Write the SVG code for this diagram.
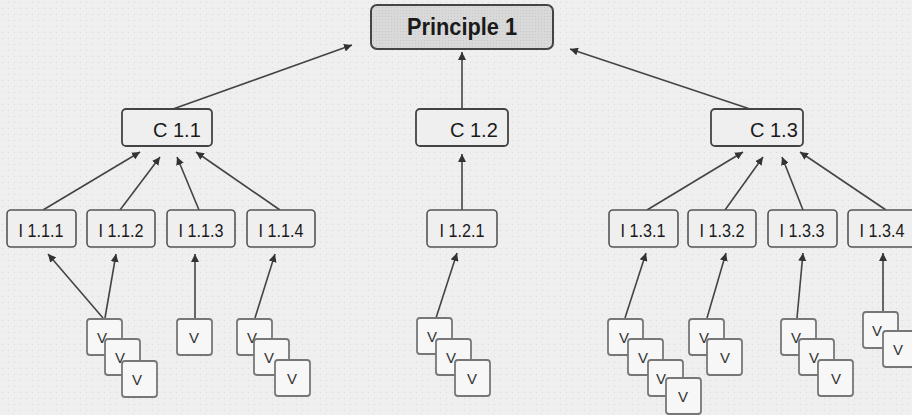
<svg xmlns="http://www.w3.org/2000/svg" width="912" height="415" viewBox="0 0 912 415">
<defs>
<pattern id="dots" width="6" height="6" patternUnits="userSpaceOnUse">
<rect width="6" height="6" fill="#efefef"/>
<rect x="2" y="2" width="1" height="1" fill="#d9d9d9"/>
</pattern>
<pattern id="pdots" width="3" height="3" patternUnits="userSpaceOnUse">
<rect width="3" height="3" fill="#d9d9d9"/>
<rect x="1" y="1" width="1" height="1" fill="#c8c8c8"/>
</pattern>
<marker id="ah" viewBox="0 0 10 10" refX="10" refY="5" markerWidth="8" markerHeight="8" orient="auto" markerUnits="userSpaceOnUse">
<path d="M0,0 L10,5 L0,10 z" fill="#333"/>
</marker>
</defs>
<style>
.bg{fill:url(#dots)}
.p{fill:url(#pdots);stroke:#444;stroke-width:2}
.c{fill:#efefef;stroke:#444;stroke-width:1.8}
.i{fill:#efefef;stroke:#555;stroke-width:1.6}
.v{fill:#f7f7f7;stroke:#777;stroke-width:1.8}
.ln{stroke:#444;stroke-width:1.6;fill:none;marker-end:url(#ah)}
text{font-family:"Liberation Sans",Arial,sans-serif;fill:#1a1a1a}
.pt{font-size:23px;font-weight:bold}
.ct{font-size:20px}
.it{font-size:18px;text-anchor:middle}
.vt{font-size:15px;text-anchor:middle;fill:#333}
</style>
<rect class="bg" x="0" y="0" width="912" height="415"/>

<g id="connectors">
<line class="ln" x1="173" y1="109" x2="352" y2="45"/>
<line class="ln" x1="462" y1="109" x2="462" y2="52"/>
<line class="ln" x1="750" y1="109" x2="570" y2="49"/>
<line class="ln" x1="43" y1="210" x2="140" y2="152"/>
<line class="ln" x1="120" y1="210" x2="160" y2="157"/>
<line class="ln" x1="199" y1="210" x2="177" y2="157"/>
<line class="ln" x1="280" y1="210" x2="196" y2="152"/>
<line class="ln" x1="462" y1="210" x2="462" y2="154"/>
<line class="ln" x1="647" y1="210" x2="743" y2="152"/>
<line class="ln" x1="725" y1="210" x2="763" y2="157"/>
<line class="ln" x1="803" y1="210" x2="782" y2="157"/>
<line class="ln" x1="886" y1="210" x2="800" y2="152"/>
<line class="ln" x1="103" y1="318" x2="48" y2="254"/>
<line class="ln" x1="105" y1="318" x2="116" y2="254"/>
<line class="ln" x1="195" y1="318" x2="195" y2="254"/>
<line class="ln" x1="255" y1="318" x2="275" y2="254"/>
<line class="ln" x1="436" y1="318" x2="457" y2="253"/>
<line class="ln" x1="625" y1="318" x2="646" y2="253"/>
<line class="ln" x1="707" y1="318" x2="726" y2="253"/>
<line class="ln" x1="797" y1="318" x2="803" y2="253"/>
<line class="ln" x1="883" y1="312" x2="883" y2="253"/>
</g>

<g id="principle1"><rect class="p" x="371" y="5" width="182" height="44" rx="6"/><text class="pt" x="407" y="35" textLength="110" lengthAdjust="spacingAndGlyphs">Principle 1</text></g>

<g id="c11"><rect class="c" x="122" y="109" width="90" height="37" rx="4"/><text class="ct" x="153" y="137">C 1.1</text></g>
<g id="c12"><rect class="c" x="416" y="109" width="92" height="37" rx="4"/><text class="ct" x="450" y="137">C 1.2</text></g>
<g id="c13"><rect class="c" x="711" y="109" width="92" height="37" rx="4"/><text class="ct" x="750" y="137">C 1.3</text></g>

<g id="i111"><rect class="i" x="7" y="210" width="69" height="37" rx="4"/><text class="it" x="41" y="237" textLength="45" lengthAdjust="spacingAndGlyphs">I 1.1.1</text></g>
<g id="i112"><rect class="i" x="87" y="210" width="68" height="37" rx="4"/><text class="it" x="121" y="237" textLength="45" lengthAdjust="spacingAndGlyphs">I 1.1.2</text></g>
<g id="i113"><rect class="i" x="167" y="210" width="68" height="37" rx="4"/><text class="it" x="201" y="237" textLength="45" lengthAdjust="spacingAndGlyphs">I 1.1.3</text></g>
<g id="i114"><rect class="i" x="247" y="210" width="68" height="37" rx="4"/><text class="it" x="281" y="237" textLength="45" lengthAdjust="spacingAndGlyphs">I 1.1.4</text></g>
<g id="i121"><rect class="i" x="427" y="210" width="70" height="37" rx="4"/><text class="it" x="462" y="237" textLength="45" lengthAdjust="spacingAndGlyphs">I 1.2.1</text></g>
<g id="i131"><rect class="i" x="609" y="210" width="69" height="37" rx="4"/><text class="it" x="643" y="237" textLength="45" lengthAdjust="spacingAndGlyphs">I 1.3.1</text></g>
<g id="i132"><rect class="i" x="688" y="210" width="68" height="37" rx="4"/><text class="it" x="722" y="237" textLength="45" lengthAdjust="spacingAndGlyphs">I 1.3.2</text></g>
<g id="i133"><rect class="i" x="768" y="210" width="69" height="37" rx="4"/><text class="it" x="802" y="237" textLength="45" lengthAdjust="spacingAndGlyphs">I 1.3.3</text></g>
<g id="i134"><rect class="i" x="848" y="210" width="70" height="37" rx="4"/><text class="it" x="882" y="237" textLength="45" lengthAdjust="spacingAndGlyphs">I 1.3.4</text></g>

<g id="v-i111-i112">
<rect class="v" x="87" y="319" width="35" height="36" rx="3"/><text class="vt" x="102" y="343">V</text>
<rect class="v" x="105" y="339" width="35" height="36" rx="3"/><text class="vt" x="120" y="363">V</text>
<rect class="v" x="122" y="361" width="35" height="36" rx="3"/><text class="vt" x="137" y="385">V</text>
</g>
<g id="v-i113">
<rect class="v" x="177" y="319" width="35" height="36" rx="3"/><text class="vt" x="194" y="343">V</text>
</g>
<g id="v-i114">
<rect class="v" x="237" y="319" width="35" height="36" rx="3"/><text class="vt" x="252" y="343">V</text>
<rect class="v" x="254" y="339" width="35" height="36" rx="3"/><text class="vt" x="269" y="363">V</text>
<rect class="v" x="275" y="360" width="35" height="36" rx="3"/><text class="vt" x="292" y="384">V</text>
</g>
<g id="v-i121">
<rect class="v" x="417" y="318" width="35" height="36" rx="3"/><text class="vt" x="432" y="342">V</text>
<rect class="v" x="436" y="339" width="35" height="36" rx="3"/><text class="vt" x="451" y="363">V</text>
<rect class="v" x="455" y="360" width="35" height="36" rx="3"/><text class="vt" x="472" y="384">V</text>
</g>
<g id="v-i131">
<rect class="v" x="608" y="319" width="35" height="36" rx="3"/><text class="vt" x="624" y="343">V</text>
<rect class="v" x="628" y="339" width="35" height="36" rx="3"/><text class="vt" x="643" y="363">V</text>
<rect class="v" x="648" y="360" width="35" height="36" rx="3"/><text class="vt" x="661" y="384">V</text>
<rect class="v" x="666" y="378" width="35" height="36" rx="3"/><text class="vt" x="683" y="402">V</text>
</g>
<g id="v-i132">
<rect class="v" x="689" y="319" width="35" height="36" rx="3"/><text class="vt" x="704" y="343">V</text>
<rect class="v" x="707" y="339" width="35" height="36" rx="3"/><text class="vt" x="725" y="363">V</text>
</g>
<g id="v-i133">
<rect class="v" x="781" y="319" width="35" height="36" rx="3"/><text class="vt" x="796" y="343">V</text>
<rect class="v" x="799" y="339" width="35" height="36" rx="3"/><text class="vt" x="814" y="363">V</text>
<rect class="v" x="818" y="360" width="35" height="36" rx="3"/><text class="vt" x="836" y="384">V</text>
</g>
<g id="v-i134">
<rect class="v" x="863" y="312" width="35" height="36" rx="3"/><text class="vt" x="877" y="336">V</text>
<rect class="v" x="883" y="331" width="35" height="36" rx="3"/><text class="vt" x="898" y="355">V</text>
</g>
</svg>
